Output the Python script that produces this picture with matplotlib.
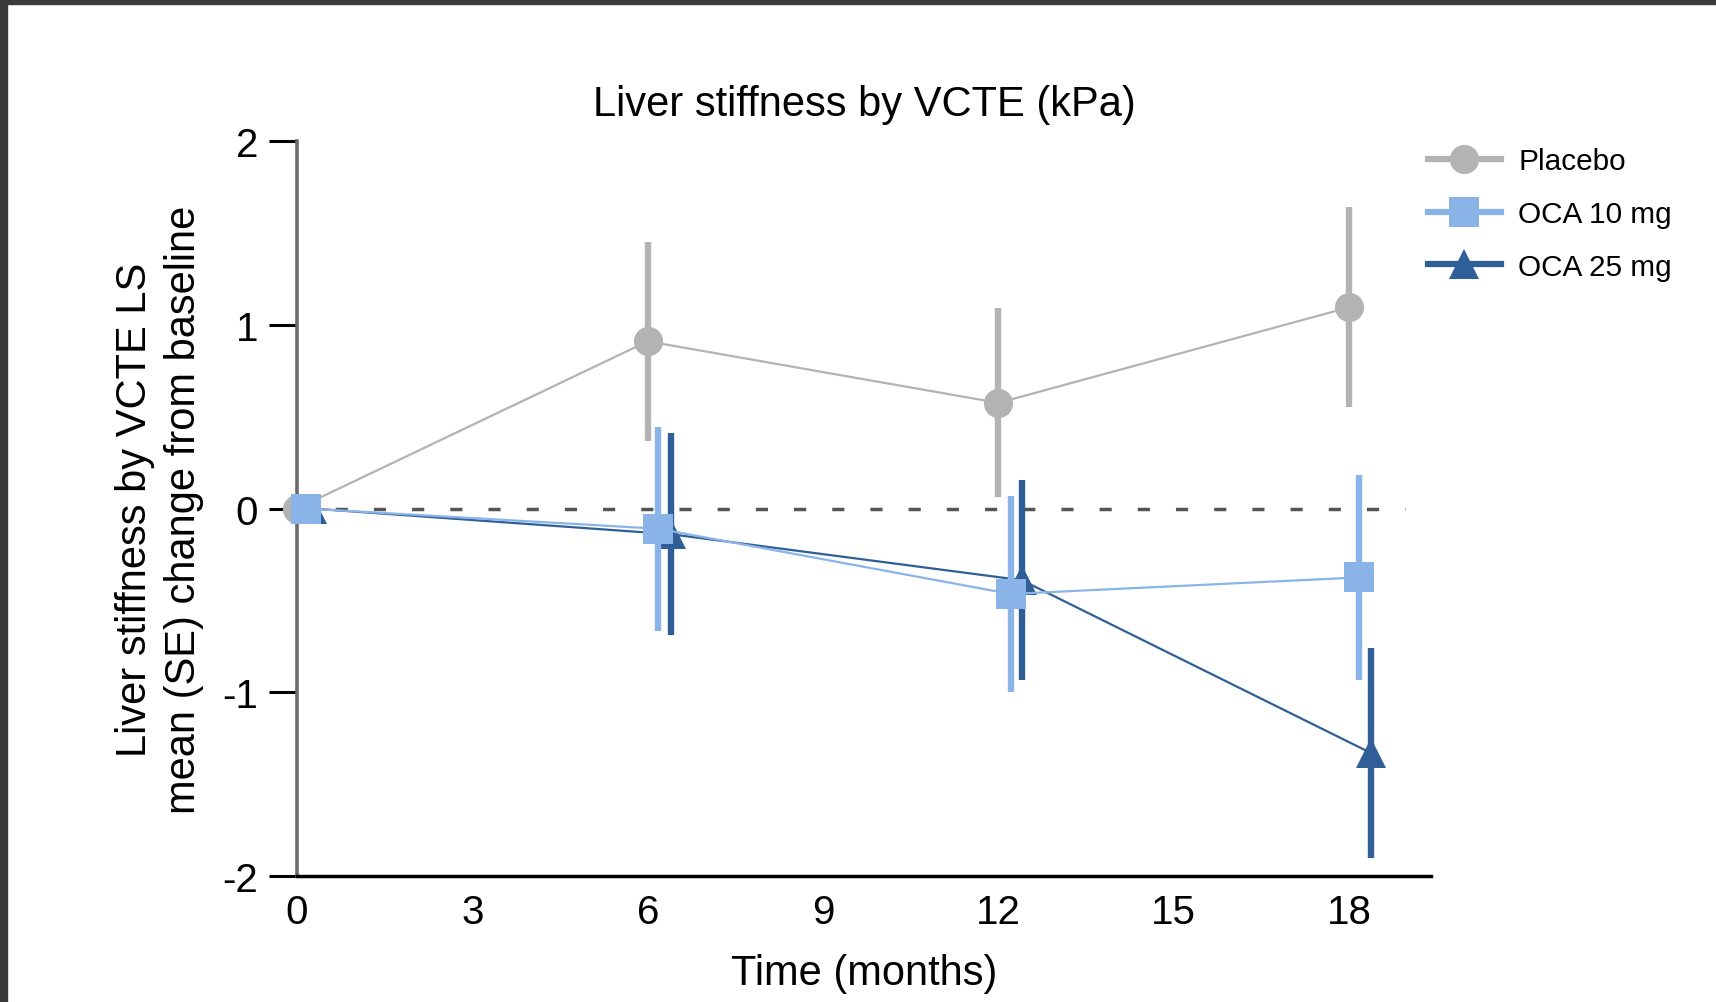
import matplotlib
matplotlib.use("Agg")
import matplotlib.pyplot as plt
from matplotlib.patches import Rectangle

# values (months, change from baseline in kPa)
placebo_x = [0, 6, 12, 18]
placebo_mean = [0, 0.91, 0.575, 1.095]
placebo_se = [0, 0.54, 0.515, 0.545]

oca10_x = [0.15, 6.18, 12.21, 18.17]
oca10_mean = [0, -0.11, -0.465, -0.375]
oca10_se = [0, 0.555, 0.535, 0.56]

oca25_x = [0.25, 6.40, 12.40, 18.37]
oca25_mean = [0, -0.14, -0.39, -1.33]
oca25_se = [0, 0.55, 0.545, 0.57]

xticks = [0, 3, 6, 9, 12, 15, 18]
yticks = [-2, -1, 0, 1, 2]

GREY = '#b3b3b3'
LIGHT = '#8ab4e8'
DARK = '#2f5f96'

plt.rcParams['font.family'] = ['Liberation Sans', 'DejaVu Sans']
plt.rcParams['axes.unicode_minus'] = False

fig = plt.figure(figsize=(17.16, 10.03), dpi=100)
ax = fig.add_axes([0.1731, 0.1256, 0.6608, 0.7328])

# dark frame strips at the top and left of the screenshot
fig.patches.append(Rectangle((0, 1 - 5 / 1003), 1, 5 / 1003, transform=fig.transFigure,
                             color='#3a3a3a', zorder=0))
fig.patches.append(Rectangle((0, 0), 7 / 1716, 1, transform=fig.transFigure,
                             color='#3a3a3a', zorder=0))

ax.hlines(0, 0, 18.95, colors='#555555', linewidth=2.5, linestyles=(0, (3.5, 7.5)), zorder=1)

series = [
    ('Placebo', placebo_x, placebo_mean, placebo_se, GREY, 'o', 21, 2),
    ('OCA 25 mg', oca25_x, oca25_mean, oca25_se, DARK, '^', 21, 3),
    ('OCA 10 mg', oca10_x, oca10_mean, oca10_se, LIGHT, 's', 21, 4),
]
handles = {}
for label, xs, ys, se, col, mk, ms, z in series:
    ax.errorbar(xs, ys, yerr=se, fmt='none', ecolor=col, elinewidth=4.6, capsize=0, zorder=z, clip_on=False)
    h, = ax.plot(xs, ys, color=col, linewidth=1.6, marker=mk, markersize=ms,
                 markeredgewidth=0, label=label, zorder=z, clip_on=False)
    handles[label] = h

ax.set_xlim(0, 19.4)
ax.set_ylim(-2, 2)
ax.set_xticks(xticks)
ax.set_yticks(yticks)
ax.tick_params(axis='x', length=0, pad=12, labelsize=29)
ax.tick_params(axis='y', length=20, width=2.2, pad=8, labelsize=29)

for s in ['top', 'right']:
    ax.spines[s].set_visible(False)
ax.spines['left'].set_color('#6a6a6a')
ax.spines['left'].set_linewidth(2.6)
ax.spines['bottom'].set_color('black')
ax.spines['bottom'].set_linewidth(2.5)

ax.set_title('Liver stiffness by VCTE (kPa)', fontsize=30, pad=19)
ax.set_xlabel('Time (months)', fontsize=30, labelpad=16)
ax.set_ylabel('Liver stiffness by VCTE LS\nmean (SE) change from baseline', fontsize=30,
              labelpad=13, linespacing=1.3)

leg = ax.legend([handles['Placebo'], handles['OCA 10 mg'], handles['OCA 25 mg']],
                ['Placebo', 'OCA 10 mg', 'OCA 25 mg'],
                loc='upper left', bbox_to_anchor=(0.832, 0.8525), bbox_transform=fig.transFigure,
                frameon=False, fontsize=21.4, handlelength=2.45, handletextpad=0.6,
                labelspacing=0.84, borderpad=0, borderaxespad=0)
for line in leg.get_lines():
    line.set_linewidth(4.5)

fig.savefig('out.png', dpi=100)
